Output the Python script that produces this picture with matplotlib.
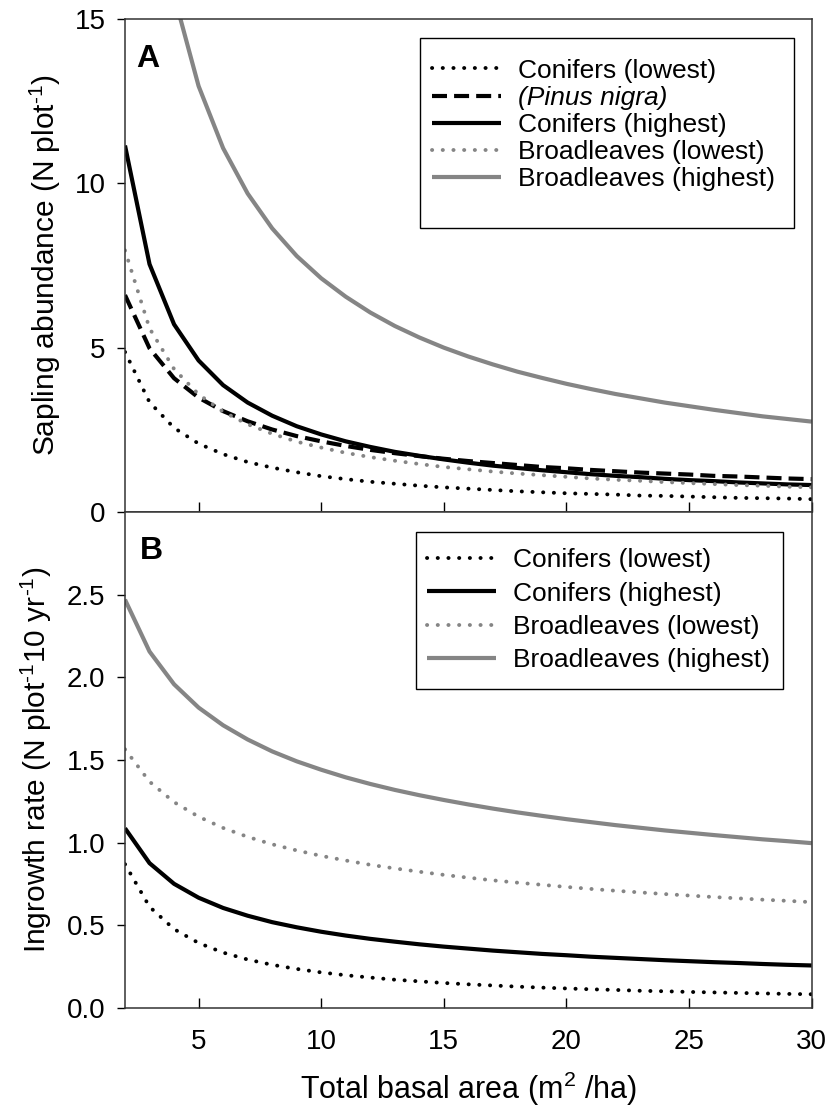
import numpy as np
import matplotlib
matplotlib.use("Agg")
import matplotlib.pyplot as plt
from matplotlib.patches import Rectangle
from matplotlib.ticker import FormatStrFormatter

plt.rcParams['font.family'] = ['Liberation Sans', 'DejaVu Sans']
plt.rcParams['mathtext.fontset'] = 'custom'
plt.rcParams['mathtext.rm'] = 'Liberation Sans'
plt.rcParams['mathtext.it'] = 'Liberation Sans:italic'
plt.rcParams['mathtext.default'] = 'regular'

# total basal area (m2/ha)
basal = list(range(2, 31))

# panel A: sapling abundance
con_low_A = [4.87, 3.34, 2.56, 2.08, 1.76, 1.52, 1.35, 1.21, 1.09, 1.00, 0.92, 0.86, 0.80, 0.75, 0.71,
             0.67, 0.63, 0.60, 0.57, 0.55, 0.53, 0.50, 0.49, 0.47, 0.45, 0.43, 0.42, 0.41, 0.39]
pinus_A = [6.60, 4.98, 4.07, 3.48, 3.07, 2.76, 2.51, 2.31, 2.15, 2.01, 1.89, 1.79, 1.70, 1.62, 1.55,
           1.49, 1.43, 1.37, 1.33, 1.28, 1.24, 1.20, 1.17, 1.14, 1.10, 1.08, 1.05, 1.02, 1.00]
con_high_A = [11.15, 7.54, 5.71, 4.61, 3.86, 3.33, 2.93, 2.61, 2.36, 2.15, 1.98, 1.83, 1.71, 1.60, 1.50,
              1.41, 1.34, 1.27, 1.21, 1.15, 1.10, 1.06, 1.01, 0.97, 0.94, 0.90, 0.87, 0.84, 0.82]
broad_low_A = [7.96, 5.59, 4.35, 3.58, 3.05, 2.67, 2.38, 2.14, 1.96, 1.80, 1.67, 1.56, 1.46, 1.37, 1.30,
               1.23, 1.17, 1.12, 1.07, 1.02, 0.98, 0.95, 0.91, 0.88, 0.85, 0.82, 0.80, 0.77, 0.75]
broad_high_A = [np.nan, np.nan, 15.72, 12.96, 11.07, 9.69, 8.63, 7.79, 7.11, 6.55, 6.07, 5.66, 5.31, 5.00,
                4.73, 4.49, 4.27, 4.08, 3.90, 3.74, 3.59, 3.46, 3.33, 3.22, 3.11, 3.01, 2.91, 2.83, 2.75]

# panel B: ingrowth rate
con_low_B = [0.870, 0.612, 0.477, 0.393, 0.335, 0.293, 0.261, 0.236, 0.215, 0.198, 0.184, 0.171, 0.161,
             0.151, 0.143, 0.136, 0.129, 0.123, 0.118, 0.113, 0.109, 0.104, 0.101, 0.097, 0.094, 0.091,
             0.088, 0.085, 0.083]
con_high_B = [1.087, 0.876, 0.751, 0.667, 0.605, 0.558, 0.519, 0.488, 0.461, 0.438, 0.418, 0.401, 0.385,
              0.371, 0.359, 0.347, 0.337, 0.327, 0.319, 0.310, 0.303, 0.296, 0.289, 0.283, 0.277, 0.272,
              0.266, 0.261, 0.257]
broad_low_B = [1.565, 1.369, 1.245, 1.157, 1.089, 1.035, 0.990, 0.953, 0.920, 0.892, 0.866, 0.844, 0.824,
               0.805, 0.788, 0.772, 0.758, 0.745, 0.732, 0.720, 0.709, 0.699, 0.689, 0.680, 0.671, 0.663,
               0.655, 0.648, 0.640]
broad_high_B = [2.470, 2.156, 1.958, 1.817, 1.710, 1.624, 1.552, 1.492, 1.441, 1.395, 1.355, 1.319, 1.287,
                1.258, 1.231, 1.206, 1.183, 1.162, 1.142, 1.124, 1.106, 1.090, 1.074, 1.060, 1.046, 1.033,
                1.020, 1.009, 0.997]

GRAY = '#858585'
dotted = dict(ls=(0, (0.05, 2.7)), lw=2.8, dash_capstyle='round')
dashed = dict(ls=(0, (3.6, 1.7)), lw=3.0)
solid = dict(ls='-', lw=3.0, solid_capstyle='butt')

TICK_FS = 20
LEG_FS = 19
LAB_FS = 21.5

fig = plt.figure(figsize=(8.3, 11.15), dpi=100)
axA = fig.add_axes([0.1506, 0.5408, 0.8274, 0.4422])
axB = fig.add_axes([0.1506, 0.0960, 0.8274, 0.4448])

axA.plot(basal, con_low_A, color='black', label='Conifers (lowest)', **dotted)
axA.plot(basal, pinus_A, color='black', label='(Pinus nigra)', **dashed)
axA.plot(basal, con_high_A, color='black', label='Conifers (highest)', **solid)
axA.plot(basal, broad_low_A, color=GRAY, label='Broadleaves (lowest)', **dotted)
axA.plot(basal, broad_high_A, color=GRAY, label='Broadleaves (highest)', **solid)

axB.plot(basal, con_low_B, color='black', label='Conifers (lowest)', **dotted)
axB.plot(basal, con_high_B, color='black', label='Conifers (highest)', **solid)
axB.plot(basal, broad_low_B, color=GRAY, label='Broadleaves (lowest)', **dotted)
axB.plot(basal, broad_high_B, color=GRAY, label='Broadleaves (highest)', **solid)

for ax in (axA, axB):
    ax.set_xlim(2, 30)
    ax.set_xticks([5, 10, 15, 20, 25, 30])
    ax.tick_params(axis='x', direction='in', length=7, width=1, pad=15, labelsize=TICK_FS)
    ax.tick_params(axis='y', direction='out', length=6, width=1, pad=8, labelsize=TICK_FS)
    for s in ax.spines.values():
        s.set_linewidth(1.1)
        s.set_color('#333333')

axA.set_ylim(0, 15)
axA.set_yticks([0, 5, 10, 15])
axA.tick_params(axis='x', labelbottom=False)
axA.set_ylabel('Sapling abundance (N plot$^{\u20101}$)', fontsize=LAB_FS, labelpad=8)

axB.set_ylim(0, 3.0)
axB.set_yticks([0, 0.5, 1.0, 1.5, 2.0, 2.5])
axB.yaxis.set_major_formatter(FormatStrFormatter('%.1f'))
axB.set_ylabel('Ingrowth rate (N plot$^{\u20101}$10 yr$^{\u20101}$)', fontsize=LAB_FS, labelpad=9)
axB.set_xlabel('Total basal area (m$^2$ /ha)', fontsize=22, labelpad=11)

axA.text(0.017, 0.95, 'A', transform=axA.transAxes, fontsize=23, fontweight='bold', va='top', ha='left')
axB.text(0.022, 0.952, 'B', transform=axB.transAxes, fontsize=23, fontweight='bold', va='top', ha='left')

# legends without frame, frames drawn as rectangles
legA = axA.legend(loc='center left', bbox_to_anchor=(0.447, 0.785), frameon=False, fontsize=LEG_FS,
                  handlelength=2.6, handletextpad=0.65, labelspacing=0.12, borderpad=0, borderaxespad=0)
legA.get_texts()[1].set_style('italic')
axA.add_patch(Rectangle((0.4294, 0.5761), 0.5444, 0.3854, transform=axA.transAxes, fill=False,
                        edgecolor='black', lw=1.0, zorder=5))

legB = axB.legend(loc='center left', bbox_to_anchor=(0.4396, 0.802), frameon=False, fontsize=LEG_FS,
                  handlelength=2.6, handletextpad=0.65, labelspacing=0.35, borderpad=0, borderaxespad=0)
axB.add_patch(Rectangle((0.4236, 0.643), 0.5342, 0.3167, transform=axB.transAxes, fill=False,
                        edgecolor='black', lw=1.0, zorder=5))

fig.savefig('out.png', dpi=100)
